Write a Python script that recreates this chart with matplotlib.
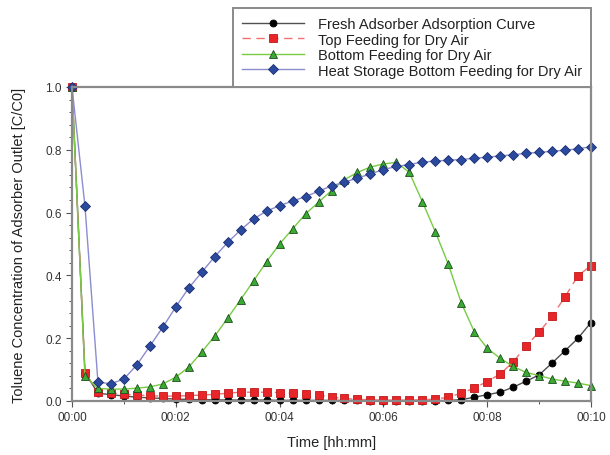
import matplotlib
matplotlib.use("Agg")
import matplotlib.pyplot as plt
from matplotlib.ticker import MultipleLocator, FuncFormatter

plt.rcParams['font.family'] = ['Liberation Sans', 'DejaVu Sans']

# time in minutes (every 15 s)
time_min = [i * 0.25 for i in range(41)]

fresh = [1.0, 0.09, 0.025, 0.02, 0.016, 0.012, 0.01, 0.008, 0.006, 0.005,
         0.004, 0.004, 0.003, 0.003, 0.003, 0.003, 0.002, 0.002, 0.002, 0.002,
         0.002, 0.002, 0.002, 0.001, 0.001, 0.001, 0.001, 0.001, 0.001, 0.002,
         0.004, 0.012, 0.02, 0.028, 0.044, 0.063, 0.083, 0.121, 0.16, 0.2, 0.25]

top_feed = [1.0, 0.09, 0.03, 0.026, 0.022, 0.019, 0.017, 0.015, 0.016, 0.017,
            0.019, 0.021, 0.025, 0.028, 0.028, 0.028, 0.027, 0.025, 0.022, 0.019,
            0.012, 0.008, 0.005, 0.004, 0.003, 0.003, 0.003, 0.004, 0.006, 0.012,
            0.025, 0.041, 0.062, 0.086, 0.124, 0.176, 0.219, 0.27, 0.332, 0.399, 0.431]

bottom_feed = [1.0, 0.08, 0.04, 0.038, 0.038, 0.041, 0.045, 0.054, 0.076, 0.108,
               0.156, 0.207, 0.264, 0.323, 0.383, 0.444, 0.50, 0.548, 0.596, 0.633,
               0.67, 0.705, 0.728, 0.745, 0.755, 0.76, 0.728, 0.635, 0.539, 0.436,
               0.313, 0.221, 0.168, 0.136, 0.11, 0.091, 0.081, 0.07, 0.063, 0.057, 0.049]

heat_storage = [1.0, 0.62, 0.06, 0.055, 0.07, 0.115, 0.175, 0.235, 0.30, 0.36,
                0.41, 0.46, 0.505, 0.545, 0.58, 0.605, 0.622, 0.637, 0.651, 0.668,
                0.685, 0.697, 0.71, 0.723, 0.737, 0.747, 0.753, 0.761, 0.764, 0.767,
                0.769, 0.773, 0.776, 0.781, 0.784, 0.789, 0.792, 0.795, 0.799, 0.803, 0.81]

labels = ["Fresh Adsorber Adsorption Curve", "Top Feeding for Dry Air",
          "Bottom Feeding for Dry Air", "Heat Storage Bottom Feeding for Dry Air"]

W, H = 610, 456
fig = plt.figure(figsize=(W / 100, H / 100), dpi=100)
ax = fig.add_axes([72 / W, 1 - 402 / H, (591 - 72) / W, (402 - 88) / H])

lw = 1.0
ax.plot(time_min, fresh, color='#505050', lw=lw, marker='o', ms=5,
        mfc='black', mec='black', mew=0.6, label=labels[0], clip_on=False)
ax.plot(time_min, top_feed, color='#f07070', lw=lw, ls=(0, (6, 4)), marker='s', ms=5.5,
        mfc='#e8262a', mec='#c01818', mew=0.6, label=labels[1], clip_on=False)
ax.plot(time_min, bottom_feed, color='#77cc44', lw=lw, marker='^', ms=6,
        mfc='#3aaa35', mec='#1d4d1d', mew=0.6, label=labels[2], clip_on=False)
ax.plot(time_min, heat_storage, color='#8c8cd0', lw=lw, marker='D', ms=5,
        mfc='#2a4a9e', mec='#1a2d70', mew=0.6, label=labels[3], clip_on=False)

ax.set_xlim(0, 10)
ax.set_ylim(0, 1.0)
ax.xaxis.set_major_locator(MultipleLocator(2))
ax.xaxis.set_minor_locator(MultipleLocator(1))
ax.yaxis.set_major_locator(MultipleLocator(0.2))
ax.yaxis.set_minor_locator(MultipleLocator(0.04))
ax.xaxis.set_major_formatter(FuncFormatter(lambda v, p: "00:%02d" % int(round(v))))
ax.yaxis.set_major_formatter(FuncFormatter(lambda v, p: "%.1f" % v))

spine_col = '#8a8a8a'
for s in ax.spines.values():
    s.set_color(spine_col)
    s.set_linewidth(1.6)
ax.tick_params(which='both', direction='out', colors='#555555', labelcolor='#333333',
               labelsize=8.5)
ax.tick_params(which='major', length=4, width=0.8)
ax.tick_params(which='minor', length=2.5, width=0.7)

ax.set_xlabel("Time [hh:mm]", fontsize=10.5, color='#222222', labelpad=8)
ax.set_ylabel("Toluene Concentration of Adsorber Outlet [C/C0]", fontsize=10.5,
              color='#222222', labelpad=14)

leg = fig.legend(loc='lower left', bbox_to_anchor=(233 / W, 1 - 88 / H, (591 - 233) / W, 0.1),
                 mode='expand', fontsize=10.5, handlelength=4.2, handletextpad=1.0,
                 labelspacing=0.1, borderpad=0.65, borderaxespad=0, fancybox=False,
                 framealpha=1, edgecolor=spine_col)
leg.get_frame().set_linewidth(1.4)
for t in leg.get_texts():
    t.set_color('#222222')

fig.savefig("out.png", dpi=100)
